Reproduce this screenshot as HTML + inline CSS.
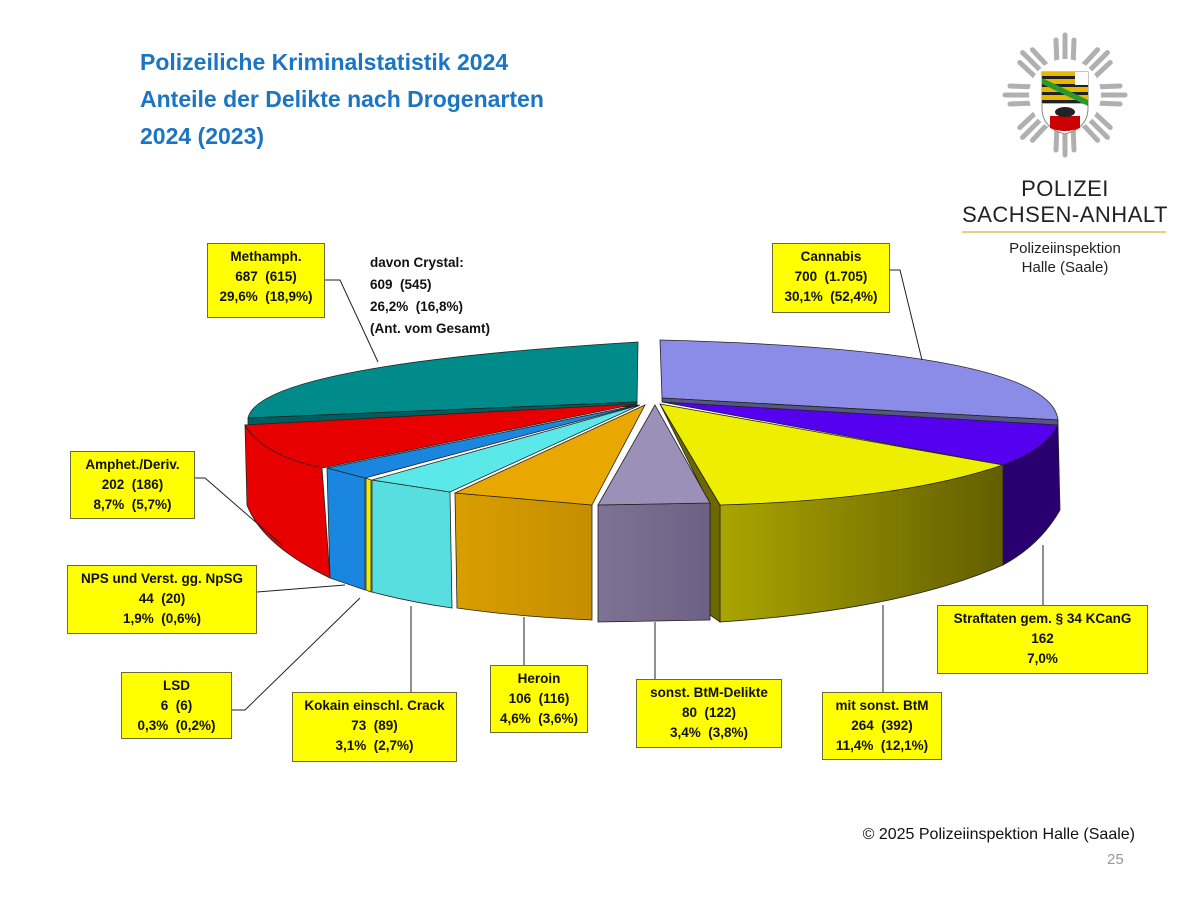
<!DOCTYPE html>
<html><head><meta charset="utf-8"><style>
body{margin:0;width:1200px;height:900px;background:#fff;position:relative;overflow:hidden;font-family:"Liberation Sans",sans-serif}
.t{position:absolute;left:140px;color:#1b75c2;font-weight:bold;font-size:23px;line-height:37px;top:44px}
.b{position:absolute;background:#ffff00;border:1.5px solid #6b6b3a;text-align:center;font-weight:bold;font-size:13.5px;line-height:20px;color:#111;box-sizing:border-box;padding-top:3px;white-space:nowrap}
</style></head><body>
<div class="t">Polizeiliche Kriminalstatistik 2024<br>Anteile der Delikte nach Drogenarten<br>2024 (2023)</div>
<svg width="1200" height="900" style="position:absolute;left:0;top:0">
<defs>
<linearGradient id="gy" x1="0" x2="1"><stop offset="0" stop-color="#aaa500"/><stop offset="1" stop-color="#625e00"/></linearGradient>
<linearGradient id="go" x1="0" x2="1"><stop offset="0" stop-color="#d99e00"/><stop offset="1" stop-color="#c48e00"/></linearGradient>
<linearGradient id="gg" x1="0" x2="1"><stop offset="0" stop-color="#7e7394"/><stop offset="1" stop-color="#6c6184"/></linearGradient>
</defs>
<g stroke="#222" stroke-width="0.8">
<!-- teal -->
<path d="M638,342 L637,402 L248,418 Q260,365 638,342Z" fill="#008b8b"/>
<path d="M248,418 L637,402 L637,406 L248,425Z" fill="#005e5e"/>
<!-- cannabis -->
<path d="M660,340 Q1050,350 1058,420 L662,398Z" fill="#8b8be8"/>
<path d="M662,398 L1058,420 L1058,426 L662,402Z" fill="#555588"/>
<!-- purple -->
<path d="M1058,425 L1060,510 Q1040,545 1003,565 L1003,465Z" fill="#2a0070"/>
<path d="M662,402 L1058,425 Q1045,450 1003,465Z" fill="#5500ee"/>
<!-- yellow -->
<path d="M720,505 L1003,465 L1003,565 Q900,610 720,622Z" fill="url(#gy)"/>
<path d="M660,404 L720,505 L720,622 L710,615 L710,505Z" fill="#6b6800"/>
<path d="M660,404 L1003,465 Q900,500 720,505Z" fill="#eeee00"/>
<!-- red -->
<path d="M245,425 L322,468 L330,578 Q262,545 247,505Z" fill="#e80000"/>
<path d="M636,404 L245,425 Q262,455 322,468Z" fill="#e80000"/>
<!-- blue -->
<path d="M327,468 L365,478 L365,590 L330,578Z" fill="#1a86e0"/>
<path d="M638,405 L327,468 L365,478Z" fill="#1a86e0"/>
<!-- lsd -->
<path d="M366,478 L371,480 L371,592 L366,590Z" fill="#eeee00"/>
<!-- cyan -->
<path d="M372,480 L450,492 L452,608 Q410,602 372,592Z" fill="#58dede"/>
<path d="M640,405 L372,480 L450,492Z" fill="#5ae8e8"/>
<!-- orange -->
<path d="M455,493 L592,505 L592,620 Q520,617 457,608Z" fill="url(#go)"/>
<path d="M645,405 L455,493 L592,505Z" fill="#e8a800"/>
<!-- grey -->
<path d="M598,505 L710,503 L710,620 L598,622Z" fill="url(#gg)"/>
<path d="M655,405 L598,505 L710,503Z" fill="#9a90b8"/>
</g>
<g stroke="#222" stroke-width="1" fill="none">
<path d="M325,280 L340,280 L378,362"/>
<path d="M890,270 L900,270 L922,360"/>
<path d="M195,478 L205,478 L282,545"/>
<path d="M257,592 L345,585"/>
<path d="M232,710 L245,710 L360,598"/>
<path d="M411,692 L411,606"/>
<path d="M524,665 L524,617"/>
<path d="M655,679 L655,622"/>
<path d="M883,692 L883,605"/>
<path d="M1043,605 L1043,545"/>
</g>
<!-- logo star -->
<g transform="translate(1065,95)" stroke="#b0b0b0" stroke-width="5" stroke-linecap="round">
<g id="r"><line x1="0" y1="-28" x2="0" y2="-60"/><line x1="-8" y1="-28" x2="-9" y2="-55"/><line x1="8" y1="-28" x2="9" y2="-55"/></g>
<use href="#r" transform="rotate(45)"/><use href="#r" transform="rotate(90)"/><use href="#r" transform="rotate(135)"/><use href="#r" transform="rotate(180)"/><use href="#r" transform="rotate(225)"/><use href="#r" transform="rotate(270)"/><use href="#r" transform="rotate(315)"/>
</g>
<circle cx="1065" cy="95" r="36" fill="#fff"/>
<path d="M1042,72 L1088,72 L1088,108 Q1088,128 1065,134 Q1042,128 1042,108Z" fill="#fff" stroke="#888"/>
<rect x="1042" y="72" width="46" height="32" fill="#e8b800"/>
<g fill="#222"><rect x="1042" y="76" width="46" height="3"/><rect x="1042" y="84" width="46" height="3"/><rect x="1042" y="92" width="46" height="3"/><rect x="1042" y="100" width="46" height="3"/></g>
<path d="M1042,78 L1088,100 L1088,106 L1042,84Z" fill="#2a9a2a"/>
<rect x="1075" y="72" width="13" height="13" fill="#fff"/>
<path d="M1050,116 L1080,116 L1080,128 Q1065,134 1050,128Z" fill="#c00"/>
<ellipse cx="1065" cy="112" rx="10" ry="5" fill="#222"/>
<line x1="962" y1="232" x2="1166" y2="232" stroke="#e6d27a" stroke-width="2"/>
</svg>
<div style="position:absolute;left:960px;top:176px;width:210px;text-align:center;font-size:22px;line-height:26px;color:#222;letter-spacing:0.5px">POLIZEI<br>SACHSEN-ANHALT</div>
<div style="position:absolute;left:960px;top:239px;width:210px;text-align:center;font-size:15px;line-height:19px;color:#222">Polizeiinspektion<br>Halle (Saale)</div>

<div class="b" style="left:207px;top:243px;width:118px;height:75px">Methamph.<br>687&nbsp; (615)<br>29,6%&nbsp; (18,9%)</div>
<div style="position:absolute;left:370px;top:252px;font-weight:bold;font-size:13.5px;line-height:22px;color:#111">davon Crystal:<br>609&nbsp; (545)<br>26,2%&nbsp; (16,8%)<br>(Ant. vom Gesamt)</div>
<div class="b" style="left:772px;top:243px;width:118px;height:70px">Cannabis<br>700&nbsp; (1.705)<br>30,1%&nbsp; (52,4%)</div>
<div class="b" style="left:70px;top:451px;width:125px;height:68px">Amphet./Deriv.<br>202&nbsp; (186)<br>8,7%&nbsp; (5,7%)</div>
<div class="b" style="left:67px;top:565px;width:190px;height:69px">NPS und Verst. gg. NpSG<br>44&nbsp; (20)<br>1,9%&nbsp; (0,6%)</div>
<div class="b" style="left:121px;top:672px;width:111px;height:67px">LSD<br>6&nbsp; (6)<br>0,3%&nbsp; (0,2%)</div>
<div class="b" style="left:292px;top:692px;width:165px;height:70px">Kokain einschl. Crack<br>73&nbsp; (89)<br>3,1%&nbsp; (2,7%)</div>
<div class="b" style="left:490px;top:665px;width:98px;height:68px">Heroin<br>106&nbsp; (116)<br>4,6%&nbsp; (3,6%)</div>
<div class="b" style="left:636px;top:679px;width:146px;height:69px">sonst. BtM-Delikte<br>80&nbsp; (122)<br>3,4%&nbsp; (3,8%)</div>
<div class="b" style="left:822px;top:692px;width:120px;height:68px">mit sonst. BtM<br>264&nbsp; (392)<br>11,4%&nbsp; (12,1%)</div>
<div class="b" style="left:937px;top:605px;width:211px;height:69px">Straftaten gem. § 34 KCanG<br>162<br>7,0%</div>

<div style="position:absolute;right:65px;top:826px;font-size:16px;color:#111">© 2025 Polizeiinspektion Halle (Saale)</div>
<div style="position:absolute;left:1107px;top:851px;font-size:15px;color:#999">25</div>
</body></html>
